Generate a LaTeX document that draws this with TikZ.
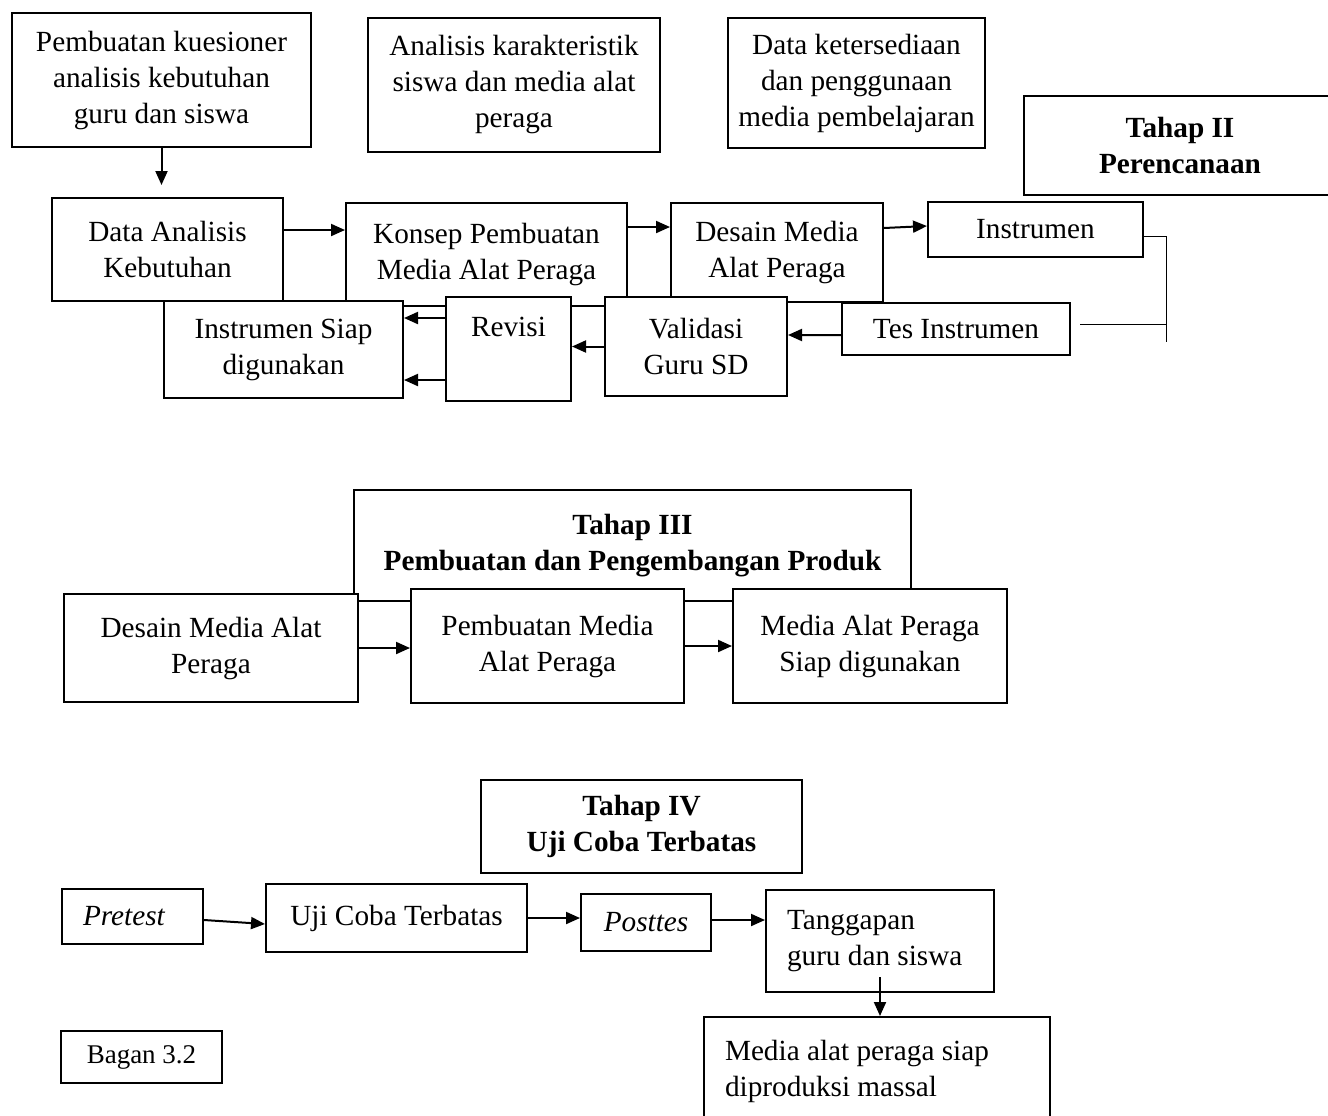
\documentclass[tikz,border=0pt]{standalone}
\usepackage{fontspec}
\setmainfont{Liberation Serif}
\usepackage{tikz}
\usetikzlibrary{arrows.meta}
\tikzset{
  box/.style 2 args={draw, fill=white, align=center, inner sep=0pt, minimum width=#1, minimum height=#2},
  lbox/.style 2 args={draw, fill=white, align=flush left, inner xsep=8.4pt, inner ysep=0pt, minimum width=#1, minimum height=#2},
  arr/.style={-{Triangle[length=5.6pt,width=4.8pt]}, line width=0.8pt},
  thinline/.style={line width=0.4pt}
}

\begin{document}
\begin{tikzpicture}[x=0.4pt,y=-0.4pt,line width=0.8pt,font=\fontsize{11.7}{14.4}\selectfont]
	\useasboundingbox (0,0) rectangle (1328,1115);
	\clip (0,0) rectangle (1328,1115);
	% Tahap II
	\node[box={119.6pt}{53.6pt}] (kues) at (161.5,80) {Pembuatan kuesioner\\analisis kebutuhan\\guru dan siswa};
	\node[box={116.8pt}{53.6pt}] (karak) at (514,85) {Analisis karakteristik\\siswa dan media alat\\peraga};
	\node[box={102.8pt}{52pt}] (sedia) at (856.5,83) {Data ketersediaan\\dan penggunaan\\media pembelajaran};
	\node[box={124.8pt}{39.6pt}] (tahap2) at (1180,145.5) {\textbf{Tahap II}\\\textbf{Perencanaan}};
	\node[box={92.4pt}{41.2pt}] (da) at (167.5,249.5) {Data Analisis\\Kebutuhan};
	\node[box={112.4pt}{41.2pt}] (konsep) at (486.5,254.5) {Konsep Pembuatan\\Media Alat Peraga};
	\node[box={84.8pt}{39.6pt}] (desain) at (777,252.5) {Desain Media\\Alat Peraga};
	\node[box={86pt}{22pt}] (instr) at (1035.5,229.5) {Instrumen};
	\node[box={91.2pt}{20.8pt}] (tes) at (956,329) {Tes Instrumen};
	\node[box={72.8pt}{39.6pt}] (valid) at (696,346.5) {Validasi\\Guru SD};
	\node[draw, fill=white, inner sep=0pt, minimum width=50pt, text height=15.6pt, text depth=26pt, anchor=north] (rev) at (508.5,296) {Revisi};
	\node[box={95.6pt}{38.8pt}] (siap) at (283.5,349.5) {Instrumen Siap\\digunakan};

	\draw[arr, shorten >=4.8pt] (kues.south) -- (kues.south |- da.north);
	\coordinate (a1) at ([yshift=7.8pt]da.east);
	\draw[arr] (a1) -- (a1 -| konsep.west);
	\coordinate (a2) at ([yshift=11pt]konsep.east);
	\draw[arr] (a2) -- (a2 -| desain.west);
	\draw[arr] ([yshift=9.8pt]desain.east) -- ([yshift=1.4pt]instr.west);
	\draw[arr] ([yshift=-2.4pt]tes.west) -- ([yshift=4.6pt]valid.east);
	\draw[arr] (valid.west) -- (valid.west -| rev.east);
	\coordinate (a3) at ([yshift=12.4pt]rev.west);
	\draw[arr] (a3) -- (a3 -| siap.east);
	\coordinate (a4) at ([yshift=-12.4pt]rev.west);
	\draw[arr] (a4) -- (a4 -| siap.east);
	\coordinate (brk) at (1166,342);
	\draw[thinline] ([yshift=-2.6pt]instr.east) -| (brk);
	\coordinate (t1) at ([shift={(3.6pt,2pt)}]tes.east);
	\draw[thinline] (t1) -- (t1 -| brk);

	% Tahap III
	\node[box={222.8pt}{44.4pt}] (tahap3) at (632.5,545.5) {\textbf{Tahap III}\\\textbf{Pembuatan dan Pengembangan Produk}};
	\node[box={117.6pt}{43.2pt}] (desain2) at (211,648) {Desain Media Alat\\Peraga};
	\node[box={109.2pt}{45.6pt}] (buat) at (547.5,646) {Pembuatan Media\\Alat Peraga};
	\node[box={109.6pt}{45.6pt}] (siap2) at (870,646) {Media Alat Peraga\\Siap digunakan};
	\draw[arr] (desain2.east) -- (desain2.east -| buat.west);
	\draw[arr] (buat.east) -- (siap2.west);

	% Tahap IV
	\node[box={128.4pt}{37.2pt}] (tahap4) at (641.5,826.5) {\textbf{Tahap IV}\\\textbf{Uji Coba Terbatas}};
	\node[lbox={56.4pt}{22pt}, text width=39.6pt] (pre) at (132.5,916.5) {\textit{Pretest}};
	\node[box={104.4pt}{27.2pt}] (uji) at (396.5,918) {Uji Coba Terbatas};
	\node[box={52pt}{22.8pt}] (post) at (646,922.5) {\textit{Posttes}};
	\node[lbox={91.2pt}{40.8pt}, text width=74.4pt] (tangg) at (880,941) {Tanggapan\\guru dan siswa};
	\node[lbox={138.4pt}{43.2pt}, text width=121.6pt] (massal) at (877,1071) {Media alat peraga siap\\diproduksi massal};
	\node[box={64.4pt}{20.8pt}, font=\fontsize{10.8}{13}\selectfont] (bagan) at (141.5,1057) {Bagan 3.2};

	\draw[arr] ([yshift=-1.4pt]pre.east) -- ([yshift=-2.4pt]uji.west);
	\draw[arr] (uji.east) -- (uji.east -| post.west);
	\coordinate (a5) at ([yshift=1pt]post.east);
	\draw[arr] (a5) -- (a5 -| tangg.west);
	\coordinate (a6) at ([yshift=6.4pt]tangg.south);
	\draw[arr] (a6) -- (a6 |- massal.north);
\end{tikzpicture}
\end{document}
